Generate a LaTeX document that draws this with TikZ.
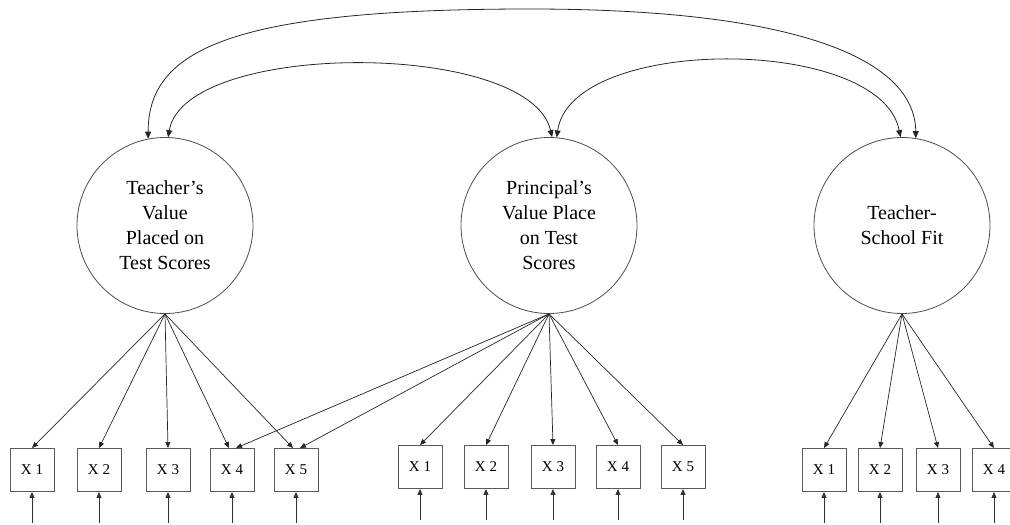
\documentclass[tikz,border=0pt]{standalone}
\usepackage{fontspec}
\setmainfont{Liberation Serif}
\usetikzlibrary{arrows.meta}

\tikzset{
  latent/.style={circle, draw=black!70, line width=0.8pt, minimum size=176pt, inner sep=0pt,
    align=center, font=\fontsize{20}{25}\selectfont},
  indicator/.style={rectangle, draw=black!65, line width=0.9pt, minimum width=44pt,
    minimum height=43pt, inner sep=0pt, font=\fontsize{15}{18}\selectfont},
  load/.style={draw=black!85, line width=0.7pt, -{Triangle[length=6pt,width=5pt]}},
  errarrow/.style={draw=black!80, line width=0.9pt, -{Triangle[length=6pt,width=5pt]}},
  cov/.style={draw=black!85, line width=0.8pt,
    {Triangle[length=7pt,width=6pt]}-{Triangle[length=7pt,width=6pt]}},
}

\begin{document}
\begin{tikzpicture}[x=1pt, y=-1pt]
\useasboundingbox (0,0) rectangle (1010,525);
\begin{scope}
\clip (0,0) rectangle (1010,525);

% latent factors
\node[latent] (c1) at (165,225.5) {Teacher's\\Value\\Placed on\\Test Scores};
\node[latent] (c2) at (549,225.5) {Principal's\\Value Place\\on Test\\Scores};
\node[latent] (c3) at (902,225.5) {Teacher-\\School Fit};

% observed indicators
\foreach \n/\x in {1/32, 2/99, 3/168, 4/232, 5/296}
  \node[indicator] (a\n) at (\x,470) {X \n};
\foreach \n/\x in {1/420, 2/486, 3/553, 4/618, 5/683}
  \node[indicator] (b\n) at (\x,467) {X \n};
\foreach \n/\x in {1/824, 2/880, 3/938, 4/994}
  \node[indicator] (d\n) at (\x,470) {X \n};

% error terms
\foreach \b in {a1,a2,a3,a4,a5,b1,b2,b3,b4,b5,d1,d2,d3,d4} {
  \path (\b.south) ++(0,31) coordinate (e\b);
  \draw[errarrow] (e\b) -- (\b.south);
}

% factor loadings
\foreach \n in {1,2,3}
  \draw[load] (c1.south) -- (a\n.north);
\draw[load] (c1.south) -- ([xshift=-3pt]a4.north);
\draw[load] (c1.south) -- ([xshift=-3pt]a5.north);
\draw[load] (c2.south) -- ([xshift=4pt]a4.north);
\draw[load] (c2.south) -- ([xshift=4pt]a5.north);
\foreach \n in {1,...,5}
  \draw[load] (c2.south) -- (b\n.north);
\foreach \n in {1,...,4}
  \draw[load] (c3.south) -- (d\n.north);

% factor covariances
\draw[cov] (c1.88) .. controls (185,40) and (530,40) .. (c2.88);
\draw[cov] (c2.85) .. controls (571,35) and (881,35) .. (c3.91);
\draw[cov] (c1.101) .. controls (148,50) and (230,9) .. (530,9)
                    .. controls (800,9) and (915,60) .. (c3.81);
\end{scope}
\end{tikzpicture}
\end{document}
